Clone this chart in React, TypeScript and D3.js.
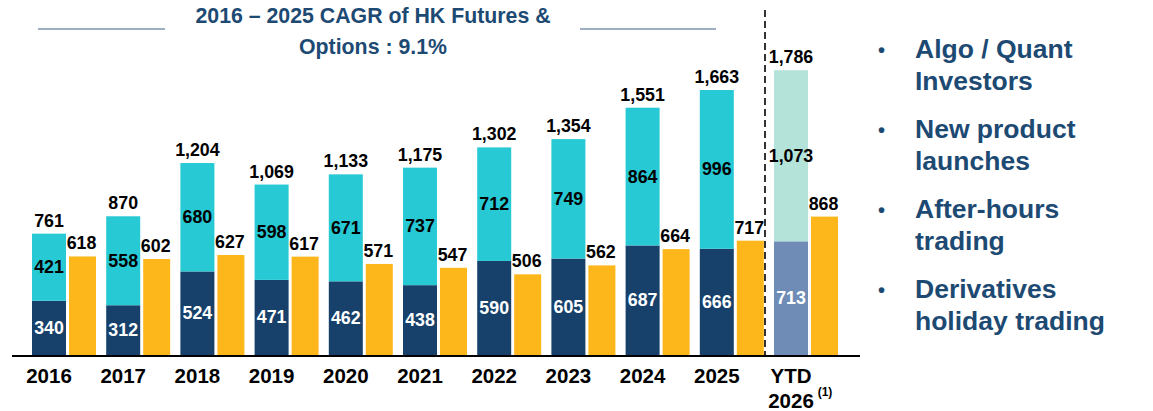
import React, { useEffect, useRef } from "react";
import * as d3 from "d3";

const categories = ["2016", "2017", "2018", "2019", "2020", "2021", "2022", "2023", "2024", "2025", "YTD 2026"];
const lowerValues = [340, 312, 524, 471, 462, 438, 590, 605, 687, 666, 713];
const upperValues = [421, 558, 680, 598, 671, 737, 712, 749, 864, 996, 1073];
const totalValues = [761, 870, 1204, 1069, 1133, 1175, 1302, 1354, 1551, 1663, 1786];
const sideValues = [618, 602, 627, 617, 571, 547, 506, 562, 664, 717, 868];

const bullets = [
  ["Algo / Quant", "Investors"],
  ["New product", "launches"],
  ["After-hours", "trading"],
  ["Derivatives", "holiday trading"],
];

const FONT = '"Liberation Sans", Arial, sans-serif';
const NAVY = "#17416b";
const CYAN = "#27c9d4";
const ORANGE = "#fdb71b";
const LIGHT_TEAL = "#b4e3d9";
const LIGHT_BLUE = "#6e8cb6";
const TITLE = "#1d4a73";

const fmt = d3.format(",");

const App = () => {
  const svgRef = useRef<SVGSVGElement | null>(null);

  useEffect(() => {
    if (!svgRef.current) return;
    const width = 1153;
    const height = 411;

    const svg = d3.select(svgRef.current).attr("width", width).attr("height", height);
    svg.selectAll("*").remove();

    // group positions, one step per year
    const x = d3.scaleBand<string>().domain(categories).range([32, 32 + 74.2 * 11]).paddingInner(0);
    const mainW = 34;
    const sideGap = 3;
    const sideW = 27;

    const y = d3.scaleLinear().domain([0, 1800]).range([355, 68]);

    const isYtd = (i: number) => i === categories.length - 1;

    const data = categories.map((c, i) => ({
      c,
      i,
      lower: lowerValues[i],
      upper: upperValues[i],
      total: totalValues[i],
      side: sideValues[i],
    }));

    const g = svg.append("g");

    // lower segment
    g.selectAll("rect.lower")
      .data(data)
      .enter()
      .append("rect")
      .attr("x", (d) => x(d.c)!)
      .attr("width", mainW)
      .attr("y", (d) => y(d.lower))
      .attr("height", (d) => y(0) - y(d.lower))
      .attr("fill", (d) => (isYtd(d.i) ? LIGHT_BLUE : NAVY));

    // upper segment
    g.selectAll("rect.upper")
      .data(data)
      .enter()
      .append("rect")
      .attr("x", (d) => x(d.c)!)
      .attr("width", mainW)
      .attr("y", (d) => y(d.lower + d.upper))
      .attr("height", (d) => y(d.lower) - y(d.lower + d.upper))
      .attr("fill", (d) => (isYtd(d.i) ? LIGHT_TEAL : CYAN));

    // side bar
    g.selectAll("rect.side")
      .data(data)
      .enter()
      .append("rect")
      .attr("x", (d) => x(d.c)! + mainW + sideGap)
      .attr("width", sideW)
      .attr("y", (d) => y(d.side))
      .attr("height", (d) => y(0) - y(d.side))
      .attr("fill", ORANGE);

    const label = (sel: any) =>
      sel
        .attr("text-anchor", "middle")
        .style("font-family", FONT)
        .style("font-weight", "bold")
        .style("font-size", "17.8px");

    // labels inside segments
    g.selectAll("text.lower")
      .data(data)
      .enter()
      .append("text")
      .call(label)
      .attr("x", (d) => x(d.c)! + mainW / 2)
      .attr("y", (d) => (y(0) + y(d.lower)) / 2 + 6)
      .attr("fill", "#ffffff")
      .text((d) => fmt(d.lower));

    g.selectAll("text.upper")
      .data(data)
      .enter()
      .append("text")
      .call(label)
      .attr("x", (d) => x(d.c)! + mainW / 2)
      .attr("y", (d) => (y(d.lower) + y(d.lower + d.upper)) / 2 + 6)
      .attr("fill", "#000000")
      .text((d) => fmt(d.upper));

    g.selectAll("text.total")
      .data(data)
      .enter()
      .append("text")
      .call(label)
      .attr("x", (d) => x(d.c)! + mainW / 2)
      .attr("y", (d) => y(d.lower + d.upper) - 7)
      .attr("fill", "#000000")
      .text((d) => fmt(d.total));

    g.selectAll("text.side")
      .data(data)
      .enter()
      .append("text")
      .call(label)
      .attr("x", (d) => x(d.c)! + mainW + sideGap + sideW / 2 - 1)
      .attr("y", (d) => y(d.side) - 7)
      .attr("fill", "#000000")
      .text((d) => fmt(d.side));

    // baseline
    svg.append("line")
      .attr("x1", 12)
      .attr("x2", 860)
      .attr("y1", y(0) + 1)
      .attr("y2", y(0) + 1)
      .attr("stroke", "#000")
      .attr("stroke-width", 2);

    // category labels
    const xl = svg.append("g")
      .style("font-family", FONT)
      .style("font-weight", "bold")
      .style("font-size", "20.5px")
      .attr("text-anchor", "middle")
      .attr("fill", "#000");

    data.forEach((d) => {
      const cx = x(d.c)! + mainW / 2;
      if (isYtd(d.i)) {
        const [a, b] = d.c.split(" ");
        xl.append("text").attr("x", cx).attr("y", 383).text(a);
        xl.append("text").attr("x", cx).attr("y", 408).text(b);
        xl.append("text")
          .attr("x", cx + 34)
          .attr("y", 396)
          .style("font-size", "12px")
          .text("(1)");
      } else {
        xl.append("text").attr("x", cx).attr("y", 383).text(d.c);
      }
    });

    // dashed separator
    svg.append("line")
      .attr("x1", 765)
      .attr("x2", 765)
      .attr("y1", 10)
      .attr("y2", y(0))
      .attr("stroke", "#333")
      .attr("stroke-width", 2)
      .attr("stroke-dasharray", "7,4");

    // title
    const title = svg.append("g")
      .style("font-family", FONT)
      .style("font-weight", "bold")
      .style("font-size", "21.3px")
      .attr("fill", TITLE)
      .attr("text-anchor", "middle");
    title.append("text").attr("x", 373).attr("y", 23).text("2016 \u2013 2025 CAGR of HK Futures &");
    title.append("text").attr("x", 373).attr("y", 54).text("Options : 9.1%");

    [[38, 165], [580, 716]].forEach(([a, b]) => {
      svg.append("line")
        .attr("x1", a)
        .attr("x2", b)
        .attr("y1", 29)
        .attr("y2", 29)
        .attr("stroke", "#7d95ad")
        .attr("stroke-width", 1.5);
    });

    // bullet list
    const bl = svg.append("g")
      .style("font-family", FONT)
      .style("font-weight", "bold")
      .style("font-size", "26.5px")
      .attr("fill", TITLE);
    bullets.forEach((lines, k) => {
      const base = 58 + k * 80;
      bl.append("text").attr("x", 878).attr("y", base - 1).style("font-size", "20px").text("\u2022");
      lines.forEach((t, j) => {
        bl.append("text").attr("x", 915).attr("y", base + j * 32).text(t);
      });
    });
  }, []);

  return (
    <div style={{ position: "absolute", left: 0, top: 0 }}>
      <svg ref={svgRef}></svg>
    </div>
  );
};

export default App;
